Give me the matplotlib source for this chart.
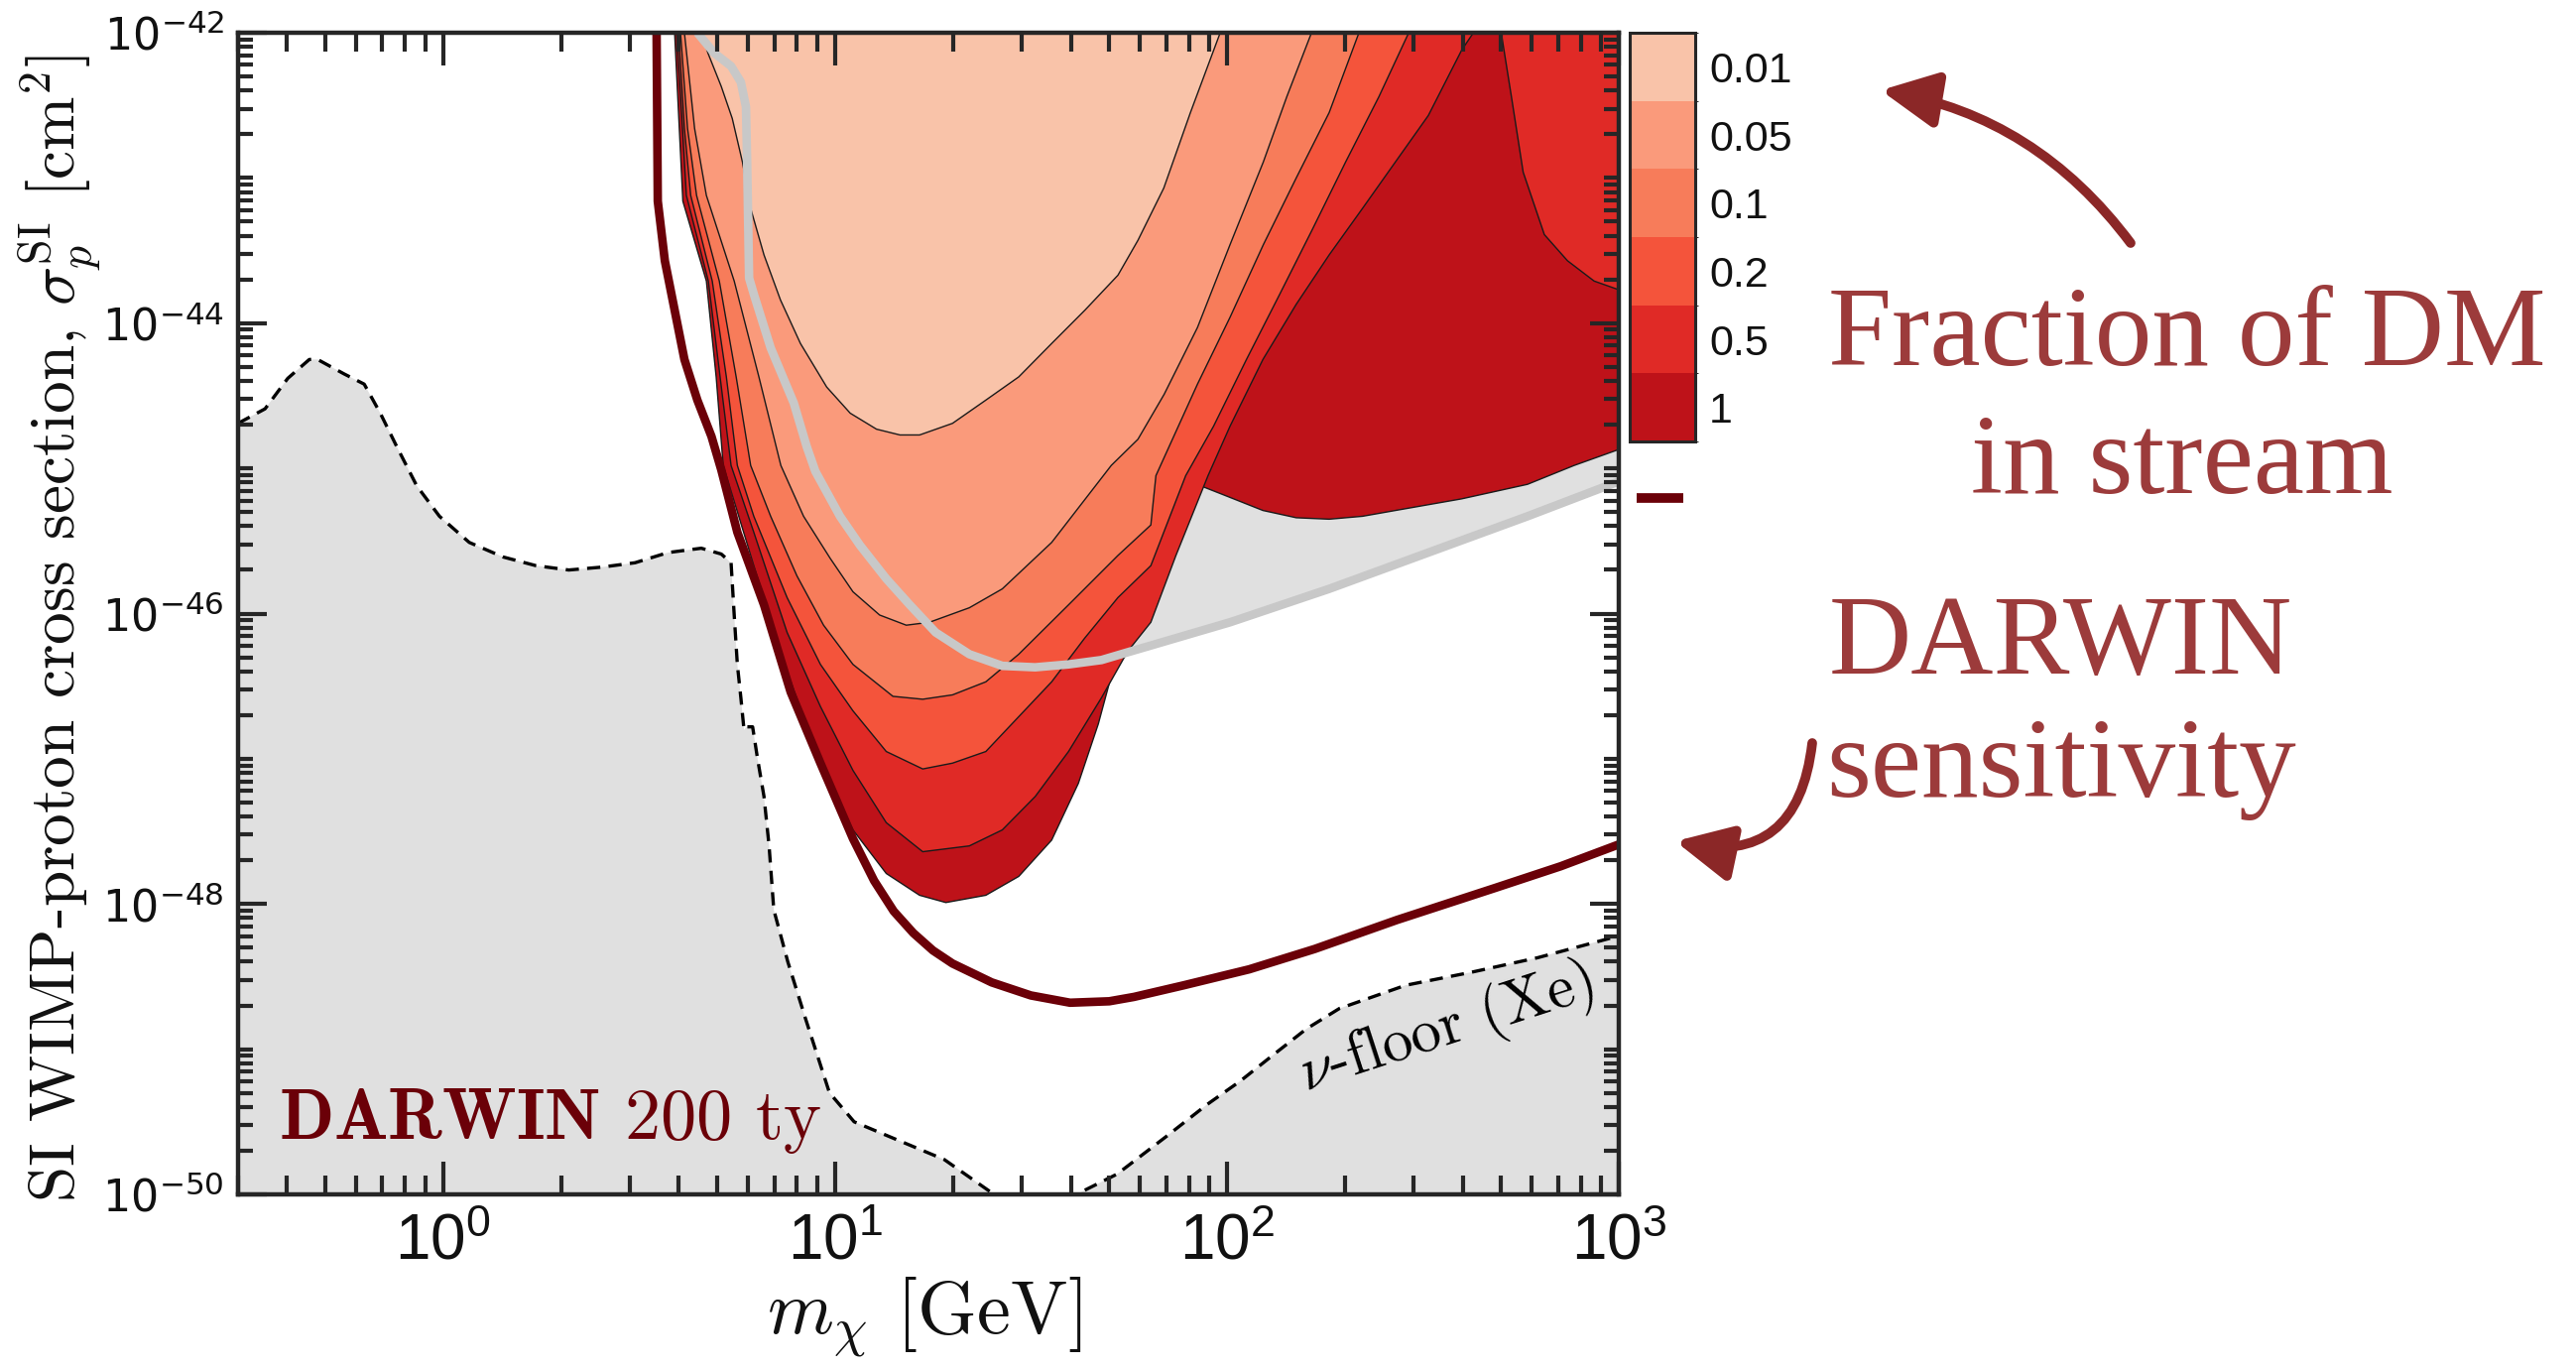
import numpy as np
import matplotlib
matplotlib.use('Agg')
import matplotlib.pyplot as plt
import matplotlib.colors as mcolors
import matplotlib.colorbar as mcolorbar
from matplotlib import font_manager
from matplotlib.patches import FancyArrowPatch
from matplotlib.lines import Line2D
from matplotlib.ticker import FixedLocator, LogLocator, NullFormatter

# ---------------- data (log10 of mass in GeV, log10 of sigma in cm^2) ----------------
fractions = ['0.01', '0.05', '0.1', '0.2', '0.5', '1']
fraction_colors = ['#F9C3A9', '#FA9A7B', '#F77C5A', '#F4543B', '#E02A26', '#BE1219']

# region excluded for fraction 1 (darkest)
r1_logm = [0.591, 0.612, 0.672, 0.697, 0.715, 0.793, 0.878, 0.963, 1.046, 1.131, 1.216, 1.283,
           1.385, 1.469, 1.553, 1.621, 1.672, 1.722, 1.755, 1.806, 1.839, 1.874, 1.899, 1.933,
           2.008, 2.092, 2.177, 2.261, 2.346, 2.430, 2.599, 2.767, 2.886, 3.0, 3.0]
r1_logs = [-42.0, -43.16, -43.71, -44.37, -44.98, -45.67, -46.40, -47.03, -47.49, -47.79, -47.94, -47.99,
           -47.94, -47.81, -47.56, -47.17, -46.76, -46.26, -45.89, -45.74, -45.65, -45.44, -45.28, -45.12,
           -45.20, -45.29, -45.34, -45.35, -45.33, -45.29, -45.21, -45.11, -44.98, -44.87, -42.0]

# fraction 0.5
r05_logm = [0.596, 0.611, 0.621, 0.677, 0.707, 0.735, 0.793, 0.878, 0.963, 1.046, 1.131, 1.224, 1.343,
            1.427, 1.511, 1.596, 1.680, 1.747, 1.806, 1.870, 1.952, 2.008, 2.092, 2.177, 2.261, 2.346,
            2.430, 2.514, 2.599, 2.629]
r05_logs = [-42.0, -42.66, -43.12, -43.71, -44.37, -44.98, -45.44, -46.13, -46.64, -47.08, -47.44, -47.64,
            -47.60, -47.49, -47.26, -46.95, -46.58, -46.26, -46.06, -45.60, -45.05, -44.71, -44.25, -43.87,
            -43.53, -43.21, -42.89, -42.57, -42.12, -42.0]
r05_corner_logm = [2.700, 2.726, 2.756, 2.810, 2.869, 2.937, 3.0, 3.0]
r05_corner_logs = [-42.0, -42.44, -42.96, -43.39, -43.57, -43.71, -43.77, -42.0]

# fraction 0.2
r02_logm = [0.601, 0.616, 0.632, 0.687, 0.723, 0.751, 0.793, 0.878, 0.963, 1.046, 1.131, 1.224, 1.300,
            1.385, 1.469, 1.553, 1.637, 1.722, 1.806, 1.895, 1.966, 2.050, 2.135, 2.219, 2.303, 2.388, 2.464]
r02_logs = [-42.0, -42.66, -43.12, -43.71, -44.37, -44.98, -45.33, -45.89, -46.35, -46.67, -46.95, -47.07,
            -47.03, -46.95, -46.71, -46.47, -46.17, -45.89, -45.67, -45.05, -44.71, -44.25, -43.80, -43.35,
            -42.89, -42.44, -42.0]

# fraction 0.1
r01_logm = [0.606, 0.624, 0.647, 0.705, 0.748, 0.785, 0.836, 0.903, 0.971, 1.046, 1.148, 1.224, 1.300,
            1.385, 1.469, 1.596, 1.722, 1.806, 1.819, 1.925, 2.008, 2.093, 2.177, 2.261, 2.337]
r01_logs = [-42.0, -42.66, -43.12, -43.71, -44.37, -44.98, -45.33, -45.74, -46.08, -46.35, -46.57, -46.59,
            -46.56, -46.47, -46.28, -45.94, -45.60, -45.39, -45.05, -44.42, -43.96, -43.46, -43.0, -42.55, -42.0]

# fraction 0.05
r005_logm = [0.616, 0.642, 0.672, 0.743, 0.806, 0.862, 0.920, 0.988, 1.046, 1.114, 1.182, 1.241, 1.343,
             1.427, 1.553, 1.705, 1.773, 1.840, 1.925, 2.008, 2.093, 2.153, 2.216]
r005_logs = [-42.0, -42.66, -43.12, -43.71, -44.37, -44.98, -45.33, -45.62, -45.85, -46.01, -46.08, -46.06,
             -45.96, -45.83, -45.51, -44.98, -44.80, -44.49, -44.03, -43.46, -42.89, -42.44, -42.0]

# fraction 0.01
r001_logm = [0.659, 0.676, 0.710, 0.738, 0.764, 0.785, 0.819, 0.861, 0.912, 0.979, 1.039, 1.106, 1.166,
             1.216, 1.300, 1.385, 1.469, 1.553, 1.638, 1.722, 1.773, 1.839, 1.907, 1.983]
r001_logs = [-42.0, -42.14, -42.37, -42.59, -42.89, -43.21, -43.53, -43.84, -44.14, -44.44, -44.62, -44.73,
             -44.77, -44.77, -44.69, -44.53, -44.37, -44.14, -43.91, -43.67, -43.43, -43.07, -42.55, -42.0]

# light grey curve
grey_logm = [0.649, 0.692, 0.735, 0.760, 0.773, 0.776, 0.781, 0.793, 0.836, 0.895, 0.928, 0.950, 1.013,
             1.064, 1.131, 1.191, 1.257, 1.343, 1.427, 1.511, 1.596, 1.680, 1.755, 1.806, 2.008, 2.261,
             2.514, 2.767, 3.0]
grey_logs = [-42.0, -42.14, -42.23, -42.34, -42.51, -42.89, -43.69, -43.80, -44.17, -44.55, -44.85, -45.02,
             -45.33, -45.53, -45.76, -45.94, -46.13, -46.28, -46.36, -46.37, -46.35, -46.32, -46.26, -46.22,
             -46.06, -45.83, -45.58, -45.33, -45.09]

# DARWIN 200 ty sensitivity
darwin_logm = [0.545, 0.548, 0.566, 0.591, 0.616, 0.649, 0.685, 0.710, 0.751, 0.819, 0.887, 0.963, 1.046,
               1.100, 1.150, 1.200, 1.250, 1.300, 1.400, 1.500, 1.600, 1.700, 1.763, 1.890, 2.057, 2.224,
               2.434, 2.684, 2.852, 3.0]
darwin_logs = [-42.0, -43.16, -43.57, -43.91, -44.25, -44.53, -44.78, -45.01, -45.44, -45.94, -46.54, -47.03,
               -47.55, -47.84, -48.05, -48.20, -48.32, -48.41, -48.54, -48.63, -48.68, -48.67, -48.64, -48.56,
               -48.45, -48.31, -48.11, -47.89, -47.74, -47.59]

# neutrino floor (Xe)
nu_logm = [-0.523, -0.454, -0.396, -0.341, -0.320, -0.252, -0.201, -0.160, -0.118, -0.067, -0.009, 0.067,
           0.153, 0.237, 0.321, 0.406, 0.490, 0.574, 0.659, 0.710, 0.735, 0.743, 0.751, 0.760, 0.768, 0.775,
           0.790, 0.802, 0.819, 0.832, 0.844, 0.880, 0.925, 0.986, 1.049, 1.155, 1.279, 1.406, 1.500, 1.616,
           1.720, 1.846, 1.950, 2.034, 2.118, 2.203, 2.287, 2.456, 2.624, 2.793, 3.0]
nu_logs = [-44.69, -44.59, -44.38, -44.25, -44.25, -44.35, -44.42, -44.62, -44.85, -45.12, -45.33, -45.51,
           -45.61, -45.67, -45.70, -45.68, -45.65, -45.58, -45.55, -45.59, -45.65, -46.01, -46.35, -46.58,
           -46.80, -46.78, -46.78, -46.99, -47.26, -47.60, -48.04, -48.40, -48.79, -49.30, -49.50, -49.62,
           -49.76, -50.0, -50.2, -50.0, -49.86, -49.60, -49.38, -49.22, -49.04, -48.86, -48.72, -48.56, -48.47,
           -48.37, -48.22]

x_ticks = [1, 10, 100, 1000]
x_ticklabels = [r'$10^{0}$', r'$10^{1}$', r'$10^{2}$', r'$10^{3}$']
y_ticks = [1e-50, 1e-48, 1e-46, 1e-44, 1e-42]
y_ticklabels = [r'$10^{-50}$', r'$10^{-48}$', r'$10^{-46}$', r'$10^{-44}$', r'$10^{-42}$']

# ---------------- styling ----------------
available = {f.name for f in font_manager.fontManager.ttflist}
narrow = 'Liberation Sans Narrow' if 'Liberation Sans Narrow' in available else 'Liberation Sans'
plt.rcParams['mathtext.fontset'] = 'custom'
plt.rcParams['mathtext.rm'] = narrow
plt.rcParams['mathtext.it'] = narrow + ':italic'
plt.rcParams['mathtext.bf'] = narrow + ':bold'
plt.rcParams['font.family'] = [narrow, 'DejaVu Sans']

DARK = '#6B0008'
ANNOT = '#9C3B3B'
ARROW = '#8B2727'
AXC = '#262626'


def L(v):
    return np.power(10.0, np.asarray(v, dtype=float))


W, H = 2597, 1379
fig = plt.figure(figsize=(W / 100, H / 100), dpi=100)
ax = fig.add_axes([240 / W, 1 - 1204 / H, (1632 - 240) / W, (1204 - 33) / H])
ax.set_xscale('log')
ax.set_yscale('log')
ax.set_xlim(0.3, 1000)
ax.set_ylim(1e-50, 1e-42)
ax.set_facecolor('white')

# neutrino floor
ax.fill_between(L(nu_logm), L(nu_logs), 1e-55, color='#E0E0E0', lw=0, zorder=1)
ax.plot(L(nu_logm), L(nu_logs), color='black', lw=2.4, ls=(0, (4, 2.5)), zorder=3)

# grey wedge above grey curve
ax.fill_between(L(grey_logm), L(grey_logs), 1e-42, color='#E0E0E0', lw=0, zorder=1)

regions = [
    (r1_logm, r1_logs, fraction_colors[5]),
    (r05_logm, r05_logs, fraction_colors[4]),
    (r05_corner_logm, r05_corner_logs, fraction_colors[4]),
    (r02_logm, r02_logs, fraction_colors[3]),
    (r01_logm, r01_logs, fraction_colors[2]),
    (r005_logm, r005_logs, fraction_colors[1]),
    (r001_logm, r001_logs, fraction_colors[0]),
]
for i, (lm, lsg, col) in enumerate(regions):
    ax.fill(L(lm), L(lsg), facecolor=col, edgecolor='#1a1a1a', lw=1.0, zorder=4 + i)

ax.plot(L(grey_logm), L(grey_logs), color='#C8C8C8', lw=6.2, zorder=12, solid_capstyle='butt')
ax.plot(L(darwin_logm), L(darwin_logs), color=DARK, lw=6.2, zorder=13)

# texts inside axes
ax.text(0.0295, 0.0478, r'$\mathbf{DARWIN}$ 200 ty', transform=ax.transAxes, family='cmr10',
        math_fontfamily='cm', fontsize=52, color=DARK, ha='left', va='baseline', zorder=15)
ax.text(10 ** 2.56, 10 ** -48.86, r'$\nu$-floor (Xe)', family='cmr10', math_fontfamily='cm',
        fontsize=44, rotation=18, rotation_mode='anchor', ha='center', va='center', zorder=15)

# ticks
ax.xaxis.set_major_locator(FixedLocator(x_ticks))
ax.set_xticklabels(x_ticklabels)
ax.xaxis.set_minor_locator(LogLocator(base=10, subs=np.arange(2, 10), numticks=100))
ax.xaxis.set_minor_formatter(NullFormatter())
ax.yaxis.set_major_locator(FixedLocator(y_ticks))
ax.set_yticklabels(y_ticklabels)
ax.yaxis.set_minor_locator(LogLocator(base=10, subs=np.arange(1, 10), numticks=100))
ax.yaxis.set_minor_formatter(NullFormatter())

ax.tick_params(axis='x', which='major', direction='in', length=24, width=3.0, top=True, bottom=True,
               pad=13, labelsize=46, color=AXC, labelcolor='#111111')
ax.tick_params(axis='x', which='minor', direction='in', length=14, width=3.0, top=True, bottom=True, color=AXC)
ax.tick_params(axis='y', which='major', direction='in', length=21, width=3.0, left=True, right=True,
               pad=10, labelsize=32, color=AXC, labelcolor='#111111')
ax.tick_params(axis='y', which='minor', direction='in', length=11, width=3.0, left=True, right=True, color=AXC)
for t in ax.get_yticklabels():
    t.set_math_fontfamily('dejavusans')
for s in ax.spines.values():
    s.set_linewidth(3.2)
    s.set_color(AXC)
    s.set_zorder(30)
ax.xaxis.set_zorder(31)
ax.yaxis.set_zorder(31)

# axis labels
fig.text(0.0236, 0.541, r'SI WIMP-proton cross section, $\sigma_p^{\rm SI}$ [cm$^2$]', rotation=90,
         ha='center', va='center', family='cmr10', math_fontfamily='cm', fontsize=47, color='#111111')
fig.text(0.3587, 0.025, r'$m_\chi$ [GeV]', ha='center', va='baseline', family='cmr10',
         math_fontfamily='cm', fontsize=55, color='#111111')

# colorbar
cax = fig.add_axes([1643 / W, 1 - 445 / H, 66 / W, 412 / H])
n = len(fractions)
cmap = mcolors.ListedColormap(fraction_colors[::-1])
norm = mcolors.BoundaryNorm(np.arange(n + 1), n)
cb = mcolorbar.ColorbarBase(cax, cmap=cmap, norm=norm, ticks=np.arange(n) + 0.5)
cb.set_ticklabels(fractions[::-1])
cb.outline.set_linewidth(2.2)
cb.outline.set_edgecolor(AXC)
cax.tick_params(length=0, labelsize=31, pad=10, labelcolor='#111111')
for t in cax.get_yticklabels():
    t.set_family('Liberation Sans')

fig.add_artist(Line2D([1650 / W, 1697 / W], [1 - 502 / H, 1 - 502 / H], transform=fig.transFigure,
                      color=DARK, lw=7, solid_capstyle='butt'))

# annotations
fig.text(2205 / W, 1 - 368 / H, 'Fraction of DM', ha='center', va='baseline', family='Liberation Serif',
         fontsize=83, color=ANNOT)
fig.text(2200 / W, 1 - 497 / H, 'in stream', ha='center', va='baseline', family='Liberation Serif',
         fontsize=83, color=ANNOT)
fig.text(2077 / W, 1 - 679 / H, 'DARWIN', ha='center', va='baseline', family='Liberation Serif',
         fontsize=83, color=ANNOT)
fig.text(2078 / W, 1 - 803 / H, 'sensitivity', ha='center', va='baseline', family='Liberation Serif',
         fontsize=83, color=ANNOT)

arrows = [((2148, 245), (1896, 91), 0.2), ((1827, 749), (1689, 848), -0.55)]
for (x0, y0), (x1, y1), rad in arrows:
    fig.add_artist(FancyArrowPatch((x0 / W, 1 - y0 / H), (x1 / W, 1 - y1 / H), transform=fig.transFigure,
                                   connectionstyle=f'arc3,rad={rad}',
                                   arrowstyle='-|>,head_length=0.85,head_width=0.42', mutation_scale=40,
                                   color=ARROW, lw=7, shrinkA=0, shrinkB=0))

fig.savefig('out.png', dpi=100, facecolor='white')
